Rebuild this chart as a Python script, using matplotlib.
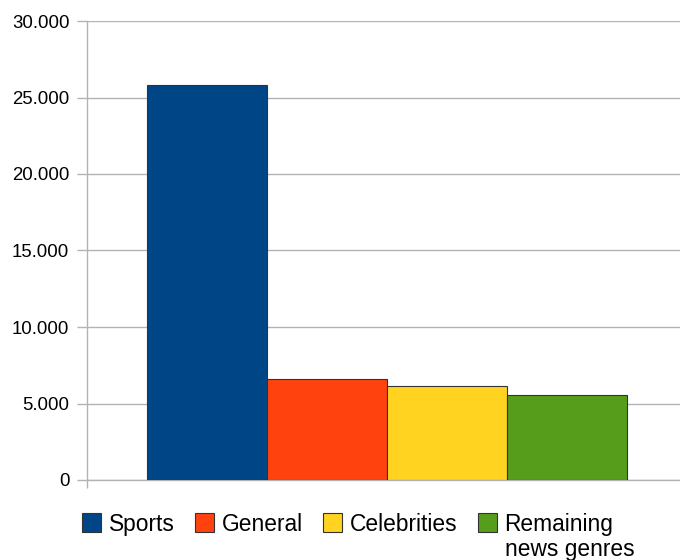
import numpy as np
import matplotlib
matplotlib.use("Agg")
import matplotlib.pyplot as plt
from matplotlib.patches import Rectangle
from matplotlib.ticker import FuncFormatter

plt.rcParams['font.family'] = ['Liberation Sans', 'DejaVu Sans']

genres = ["Sports", "General", "Celebrities", "Remaining\nnews genres"]
counts = [25800, 6580, 6150, 5540]
colors = ["#004586", "#ff420e", "#ffd320", "#579d1c"]
yticks = [0, 5000, 10000, 15000, 20000, 25000, 30000]

W, H = 680, 560
fig = plt.figure(figsize=(W / 100, H / 100), dpi=100)
# plot area in pixels: x 87..687, y 21..480
ax = fig.add_axes([87 / W, (H - 480) / H, 600 / W, 459 / H])

x = np.arange(len(genres))
ax.bar(x, counts, width=1.0, color=colors, edgecolor="#333333", linewidth=0.8, zorder=3)

grid_c = "#b3b3b3"
ax.set_xlim(-1, len(genres))
ax.set_ylim(yticks[0], yticks[-1])
ax.set_yticks(yticks)
ax.yaxis.set_major_formatter(FuncFormatter(lambda v, p: f"{int(v):,}".replace(",", ".")))
ax.grid(axis="y", color=grid_c, linewidth=1, zorder=0)
ax.tick_params(axis="y", length=7.2, width=1, color=grid_c, pad=5.5, labelsize=13.4)
ax.set_xticks([-1])
ax.set_xticklabels([""])
ax.tick_params(axis="x", length=5.8, width=1, color=grid_c)
for s in ["top", "right"]:
    ax.spines[s].set_visible(False)
for s in ["left", "bottom"]:
    ax.spines[s].set_color(grid_c)
    ax.spines[s].set_linewidth(1)

# legend drawn along the bottom
fig.canvas.draw()
renderer = fig.canvas.get_renderer()
px = 82
for name, c in zip(genres, colors):
    fig.patches.append(Rectangle((px / W, (H - 532) / H), 19 / W, 19 / H,
                                 transform=fig.transFigure, facecolor=c,
                                 edgecolor="#333333", linewidth=0.8))
    right = px
    for i, line in enumerate(name.split("\n")):
        t = fig.text((px + 27) / W, (H - 531 - 25 * i) / H, line, fontsize=16.4,
                     va="baseline", ha="left")
        right = max(right, t.get_window_extent(renderer).x1 if i == 0 else right)
    px = right + 20

fig.savefig("out.png", dpi=100)
